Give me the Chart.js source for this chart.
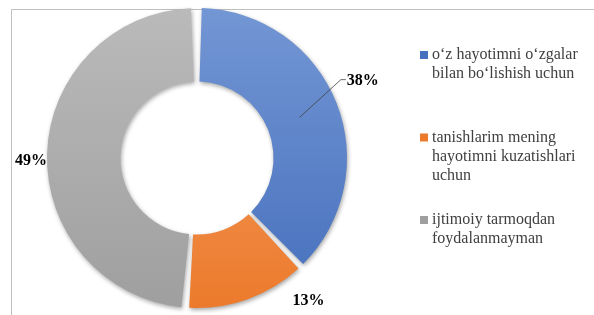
<!DOCTYPE html>
<html>
<head>
<meta charset="utf-8">
<script src="https://cdn.jsdelivr.net/npm/chart.js@4.4.1/dist/chart.umd.min.js"></script>
<style>
  html, body { margin: 0; padding: 0; background: #ffffff; }
  #wrap { width: 594px; height: 315px; position: relative; }
</style>
</head>
<body>
<div id="wrap"><canvas id="chart"></canvas></div>
<script>
// Chart data
const categories = [
    ['o‘z hayotimni o‘zgalar', 'bilan bo‘lishish uchun'],
    ['tanishlarim mening', 'hayotimni kuzatishlari', 'uchun'],
    ['ijtimoiy tarmoqdan', 'foydalanmayman']
];
const shares = [38, 13, 49];
const valueLabels = ['38%', '13%', '49%'];

// Colour pairs: top and bottom of the gradient
const topColors = ['#7396d4', '#f5a469', '#bababa'];
const bottomColors = ['#4670bd', '#ec7a2c', '#9f9f9f'];

// Build a vertical gradient for a slice
function sliceGradient(context) {
    const chart = context.chart;
    const area = chart.chartArea;
    if (!area) return bottomColors[context.dataIndex];
    const g = chart.ctx.createLinearGradient(0, area.top, 0, area.bottom);
    g.addColorStop(0, topColors[context.dataIndex]);
    g.addColorStop(1, bottomColors[context.dataIndex]);
    return g;
}

// Thin frame on the top and left edge
const framePlugin = {
    id: 'frame',
    beforeDraw(chart) {
        const ctx = chart.ctx;
        ctx.save();
        ctx.strokeStyle = '#bfbfbf';
        ctx.lineWidth = 1;
        ctx.beginPath();
        ctx.moveTo(11.5, chart.height);
        ctx.lineTo(11.5, 9.5);
        ctx.lineTo(chart.width, 9.5);
        ctx.stroke();
        ctx.restore();
    }
};

// Soft shadow under the ring
const shadowPlugin = {
    id: 'ringShadow',
    beforeDatasetsDraw(chart) {
        const ctx = chart.ctx;
        ctx.save();
        ctx.shadowColor = 'rgba(0,0,0,0.35)';
        ctx.shadowBlur = 4;
        ctx.shadowOffsetX = 1;
        ctx.shadowOffsetY = 2;
    },
    afterDatasetsDraw(chart) {
        chart.ctx.restore();
    }
};

// Percent labels, placed by angle / radius from the centre
const labelPlugin = {
    id: 'pctLabels',
    afterDatasetsDraw(chart, args, opts) {
        const ctx = chart.ctx;
        const arcs = chart.getDatasetMeta(0).data;
        ctx.save();
        ctx.font = 'bold 16px "Liberation Serif", "Times New Roman", serif';
        ctx.fillStyle = '#000000';
        ctx.textAlign = 'center';
        ctx.textBaseline = 'middle';
        arcs.forEach((arc, i) => {
            const p = opts.place[i];
            const a = p.angle * Math.PI / 180;
            const x = arc.x + Math.cos(a) * p.radius;
            const y = arc.y + Math.sin(a) * p.radius;
            if (p.leader) {
                const mid = (arc.startAngle + arc.endAngle) / 2;
                const r = (arc.innerRadius + arc.outerRadius) / 2;
                ctx.strokeStyle = '#404040';
                ctx.lineWidth = 0.8;
                ctx.beginPath();
                ctx.moveTo(arc.x + Math.cos(mid) * r, arc.y + Math.sin(mid) * r);
                ctx.lineTo(x - 22, y - 1);
                ctx.lineTo(x - 17, y - 1);
                ctx.stroke();
            }
            ctx.fillText(valueLabels[i], x, y);
        });
        ctx.restore();
    }
};

// Legend on the right with wrapped lines
const sideLegendPlugin = {
    id: 'sideLegend',
    afterDraw(chart, args, opts) {
        const ctx = chart.ctx;
        ctx.save();
        ctx.font = '16px "Liberation Serif", "Times New Roman", serif';
        ctx.textBaseline = 'middle';
        ctx.textAlign = 'left';
        chart.data.labels.forEach((lines, i) => {
            const y0 = opts.top + i * opts.slot;
            ctx.fillStyle = bottomColors[i];
            ctx.fillRect(opts.x, y0 - 4, 8, 8);
            ctx.fillStyle = '#404040';
            lines.forEach((line, j) => {
                ctx.fillText(line, opts.x + 12, y0 + j * opts.lineHeight);
            });
        });
        ctx.restore();
    }
};

new Chart(document.getElementById('chart'), {
    type: 'doughnut',
    data: {
        labels: categories,
        datasets: [{
            data: shares,
            backgroundColor: sliceGradient,
            borderWidth: 0,
            spacing: 6
        }]
    },
    options: {
        responsive: true,
        maintainAspectRatio: false,
        animation: false,
        cutout: '50%',
        layout: {
            padding: { left: 47, right: 247, top: 8, bottom: 7 }
        },
        plugins: {
            legend: { display: false },
            tooltip: { enabled: false },
            pctLabels: {
                place: [
                    { angle: -25, radius: 183, leader: true },
                    { angle: 52, radius: 181 },
                    { angle: 179, radius: 166 }
                ]
            },
            sideLegend: { x: 420, top: 55, slot: 82.5, lineHeight: 19 }
        }
    },
    plugins: [framePlugin, shadowPlugin, labelPlugin, sideLegendPlugin]
});
</script>
</body>
</html>
